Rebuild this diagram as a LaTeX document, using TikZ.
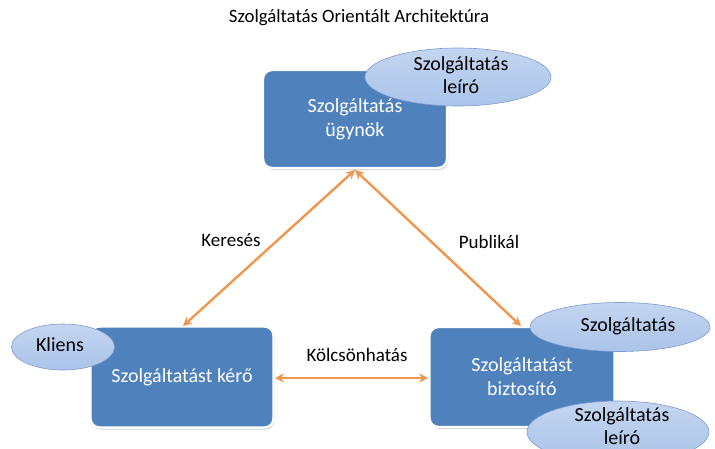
\documentclass[tikz,border=0pt]{standalone}
\usepackage{fontspec}
\setmainfont{Carlito}
\usetikzlibrary{shapes.geometric,arrows.meta,shadows}
\definecolor{boxblue}{HTML}{4F81BD}
\definecolor{arrorange}{HTML}{F0964E}
\definecolor{elltop}{HTML}{C3D5F0}
\definecolor{ellmid}{HTML}{DCE7F7}
\definecolor{ellbot}{HTML}{ABC4EA}
\definecolor{elledge}{HTML}{7E9CCB}
\tikzset{
  svcbox/.style={draw=white, line width=2.4pt, fill=boxblue, rounded corners=9pt,
    text=white, align=center, font=\fontsize{20}{24}\selectfont,
    drop shadow={opacity=0.35, shadow xshift=1pt, shadow yshift=-2pt}},
  tag/.style={ellipse, draw=elledge, line width=0.6pt, top color=elltop, middle color=ellmid, bottom color=ellbot,
    inner sep=0pt, align=center, font=\fontsize{20}{23}\selectfont},
  tagtext/.style={align=center, inner sep=0pt, font=\fontsize{20}{23}\selectfont},
  conn/.style={draw=arrorange, line width=2.4pt, {Stealth[length=9pt,width=9pt]}-{Stealth[length=9pt,width=9pt]}},
  lbl/.style={font=\fontsize{19}{22}\selectfont}
}
\begin{document}
\begin{tikzpicture}[x=1pt,y=-1pt]
\useasboundingbox (0,0) rectangle (715,448);
\clip (0,0) rectangle (715,448);
\node[font=\fontsize{18.8}{22}\selectfont] (title) at (359,18) {Szolgáltatás Orientált Architektúra};

\node[svcbox, minimum width=184pt, minimum height=98pt] (ugy) at (355,119) {Szolgáltatás\\ügynök};
\node[svcbox, minimum width=183pt, minimum height=101pt] (ker) at (182,377) {Szolgáltatást kérő};
\node[svcbox, minimum width=185pt, minimum height=100pt] (biz) at (522,377) {Szolgáltatást\\biztosító};

\node[tag, minimum width=186pt, minimum height=58pt] (e1) at (458,77) {};
\node[tagtext] (e1t) at (461,75) {Szolgáltatás\\leíró};
\node[tag, minimum width=103pt, minimum height=46pt] (e2) at (63,347) {};
\node[tagtext] (e2t) at (60,345) {Kliens};
\node[tag, minimum width=180pt, minimum height=49pt] (e3) at (620,327) {};
\node[tagtext] (e3t) at (628,326) {Szolgáltatás};
\node[tag, minimum width=182pt, minimum height=62pt] (e4) at (618,432) {};
\node[tagtext] (e4t) at (622,426) {Szolgáltatás\\leíró};

\coordinate (top) at (355,170);
\coordinate (kt) at (183,326);
\coordinate (bt) at (521,326);
\coordinate (kr) at (275,378);
\coordinate (bl) at (428,378);
\draw[conn] (top) -- (kt);
\draw[conn] (top) -- (bt);
\draw[conn] (kr) -- (bl);

\node[lbl] (l1) at (231,240) {Keresés};
\node[lbl] (l2) at (489,242) {Publikál};
\node[lbl] (l3) at (357,355) {Kölcsönhatás};
\end{tikzpicture}
\end{document}
